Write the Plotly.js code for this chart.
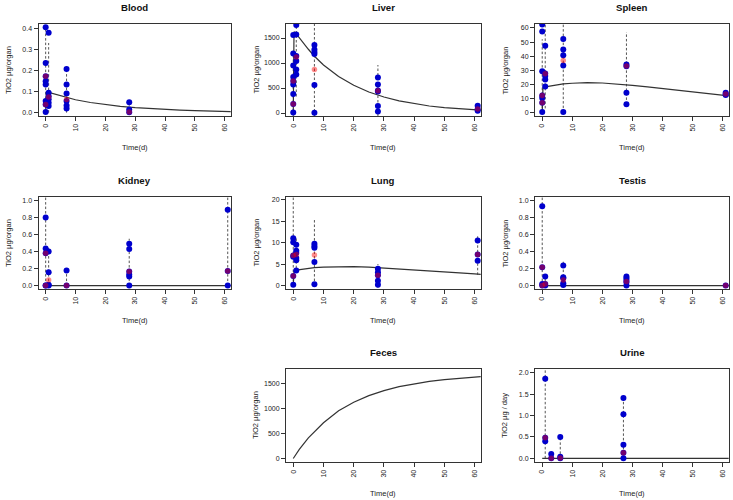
<!DOCTYPE html>
<html><head><meta charset="utf-8">
<script src="https://cdn.plot.ly/plotly-3.0.1.min.js"></script>
<style>html,body{margin:0;padding:0;background:#fff}#chart{width:733px;height:500px}</style>
</head><body><div id="chart"></div>
<script>
// ---------- data ----------
const panelNames = ['Blood','Liver','Spleen','Kidney','Lung','Testis','Feces','Urine'];
const yTitles = ['TiO2 µg/organ','TiO2 µg/organ','TiO2 µg/organ','TiO2 µg/organ','TiO2 µg/organ','TiO2 µg/organ','TiO2 µg/organ','TiO2 µg / day'];
const xTitle = 'Time(d)';
const xTicks = [0,10,20,30,40,50,60];

const bloodPtsX = [0,0,0,0,0,0,0,0, 1,1,1,1,1,1, 7,7,7,7,7,7, 28,28,28];
const bloodPtsY = [0.405,0.235,0.172,0.149,0.133,0.055,0.039,0.003, 0.379,0.094,0.078,0.063,0.047,0.031, 0.207,0.133,0.091,0.055,0.034,0.019, 0.049,0.015,0.002];
const bloodMeanX = [0,0,1,7,28];
const bloodMeanY = [0.172,0.039,0.074,0.062,0.003];
const bloodBarX = [0,1,7,28];
const bloodBarLo = [0,0,0,-0.01];
const bloodBarHi = [0.40,0.33,0.21,0.05];

const liverPtsX = [0,0,0,0,0,0,0,0,0, 1,1,1,1,1,1, 7,7,7,7,7,7, 28,28,28,28,28,28, 61,61,61];
const liverPtsY = [1560,1190,950,720,640,570,380,180,10, 1760,1570,1140,1040,870,770, 1360,1270,1220,1180,560,5, 710,570,450,430,140,30, 145,80,45];
const liverMeanX = [0,0,1,7,28,61];
const liverMeanY = [640,180,1120,870,445,80];
const liverBarX = [0,1,7,28,61];
const liverBarLo = [-60,330,-60,-60,10];
const liverBarHi = [1180,1790,1790,960,150];

const spleenPtsX = [0,0,0,0,0,0,0, 1,1,1,1,1, 7,7,7,7,7, 28,28,28,28, 61,61,61];
const spleenPtsY = [62.4,57.5,29.4,12.2,10.4,7.0,0.4, 47.3,27.8,25.9,23.4,18.5, 52.2,44.7,40.7,33.4,0.5, 34.1,32.9,14.1,5.9, 14.1,13.2,12.4];
const spleenMeanX = [0,0,1,7,28,61];
const spleenMeanY = [12.2,7.0,27.6,36.9,33.0,13.2];
const spleenBarX = [0,1,7,28,61];
const spleenBarLo = [0,3,0,9,12];
const spleenBarHi = [52,63,63,57,14.5];

const kidneyPtsX = [0,0,0,0,0, 1,1,1,1, 7,7, 28,28,28,28,28,28, 61,61,61];
const kidneyPtsY = [0.80,0.435,0.38,0.0,0.0, 0.40,0.157,0.01,0.0, 0.176,0.0, 0.49,0.43,0.165,0.13,0.106,0.0, 0.89,0.17,0.0];
const kidneyMeanX = [0,0,1,7,28,61];
const kidneyMeanY = [0.38,0.0,0.067,0.0,0.165,0.17];
const kidneyBarX = [0,1,7,28,61];
const kidneyBarLo = [0,0,0,0,0];
const kidneyBarHi = [1.05,0.44,0.17,0.55,1.05];

const lungPtsX = [0,0,0,0,0,0, 1,1,1,1,1,1, 7,7,7,7,7, 28,28,28,28,28, 61,61,61];
const lungPtsY = [11.0,10.1,7.0,6.7,2.2,0.2, 9.5,8.1,7.6,6.4,5.9,3.5, 9.7,9.2,8.8,5.5,0.3, 3.9,3.1,2.4,1.1,0.2, 10.5,7.2,5.8];
const lungMeanX = [0,0,1,7,28,61];
const lungMeanY = [7.0,2.2,7.2,7.1,2.4,7.2];
const lungBarX = [0,1,7,28,61];
const lungBarLo = [0,3,0,-0.5,2.5];
const lungBarHi = [21,11,15.7,5.0,11.9];

const testisPtsX = [0,0,0,0, 1,1,1, 7,7,7,7,7, 28,28,28,28,28, 61];
const testisPtsY = [0.93,0.216,0.02,0.0, 0.106,0.02,0.0, 0.235,0.098,0.086,0.027,0.008, 0.106,0.086,0.059,0.04,0.0, 0.0];
const testisMeanX = [0,0,1,7,28,61];
const testisMeanY = [0.216,0.0,0.02,0.067,0.047,0.0];
const testisBarX = [0,1,7,28];
const testisBarLo = [0,0,0,0];
const testisBarHi = [1.05,0.1,0.28,0.11];

const urinePtsX = [1,1,1, 3,3, 6,6,6, 27,27,27,27,27];
const urinePtsY = [1.86,0.48,0.40, 0.10,0.0, 0.50,0.04,0.0, 1.41,1.03,0.32,0.13,0.0];
const urineMeanX = [1,3,6,27];
const urineMeanY = [0.48,0.0,0.01,0.13];
const urineBarX = [1,3,6,27];
const urineBarLo = [0,0,0,0];
const urineBarHi = [2.1,0.1,0.5,1.45];

// fitted model curves
const fitX = [0,0.25,1,3,5,7,10,15,20,25,30,35,40,45,50,55,60,62];
const bloodFitY  = [0,0.098,0.096,0.088,0.080,0.071,0.061,0.048,0.038,0.030,0.024,0.019,0.015,0.012,0.009,0.007,0.006,0.005];
const liverFitY  = [0,1625,1580,1420,1275,1135,960,730,555,420,320,243,185,140,106,81,62,56];
const spleenFitY = [0,17.6,18.2,19.0,19.7,20.3,20.8,21.2,21.0,20.3,19.3,18.2,17.0,15.8,14.6,13.4,12.3,11.9];
const lungFitY   = [0,3.4,3.6,3.8,4.0,4.15,4.3,4.4,4.4,4.3,4.1,3.9,3.7,3.45,3.2,2.95,2.7,2.6];
const flatFitX = [0,62];
const kidneyFitY = [0,0];
const testisFitY = [0,0];
const urineFitY  = [0,0];
const fecesFitX = [0,2,5,10,15,20,25,30,35,40,45,50,55,62];
const fecesFitY = [0,180,410,710,950,1120,1250,1350,1430,1490,1535,1570,1598,1628];

const yRanges = [[-0.016,0.42],[-60,1780],[-2.4,62.8],[-0.04,1.04],[-0.8,20.6],[-0.04,1.04],[-70,1780],[-0.085,2.09]];
const yDticks = [0.1,500,10,0.2,5,0.2,500,0.5];
const yFormats = ['.1f','d','d','.1f','d','.1f','d','.1f'];

// ---------- layout geometry (pixels) ----------
const W = 733, H = 500;
const colPx = [[38.5,231],[286,481],[535,729]];
const rowPx = [[24,116],[197,289],[369,462]];
const cells = [[0,0],[0,1],[0,2],[1,0],[1,1],[1,2],[2,1],[2,2]];
const FONT = 'Liberation Sans, Arial, Helvetica, sans-serif';

const panels = [
  {pts:[bloodPtsX,bloodPtsY], mean:[bloodMeanX,bloodMeanY], bar:[bloodBarX,bloodBarLo,bloodBarHi], fit:[fitX,bloodFitY]},
  {pts:[liverPtsX,liverPtsY], mean:[liverMeanX,liverMeanY], bar:[liverBarX,liverBarLo,liverBarHi], fit:[fitX,liverFitY]},
  {pts:[spleenPtsX,spleenPtsY], mean:[spleenMeanX,spleenMeanY], bar:[spleenBarX,spleenBarLo,spleenBarHi], fit:[fitX,spleenFitY]},
  {pts:[kidneyPtsX,kidneyPtsY], mean:[kidneyMeanX,kidneyMeanY], bar:[kidneyBarX,kidneyBarLo,kidneyBarHi], fit:[flatFitX,kidneyFitY]},
  {pts:[lungPtsX,lungPtsY], mean:[lungMeanX,lungMeanY], bar:[lungBarX,lungBarLo,lungBarHi], fit:[fitX,lungFitY]},
  {pts:[testisPtsX,testisPtsY], mean:[testisMeanX,testisMeanY], bar:[testisBarX,testisBarLo,testisBarHi], fit:[flatFitX,testisFitY]},
  {pts:null, mean:null, bar:null, fit:[fecesFitX,fecesFitY]},
  {pts:[urinePtsX,urinePtsY], mean:[urineMeanX,urineMeanY], bar:[urineBarX,urineBarLo,urineBarHi], fit:[flatFitX,urineFitY]}
];

const traces = [];
const layout = {
  width: W, height: H, margin:{l:0,r:0,t:0,b:0},
  paper_bgcolor:'#fff', plot_bgcolor:'#fff', showlegend:false,
  font:{family:FONT, color:'#222'}, annotations:[]
};

panels.forEach((p, i) => {
  const n = i + 1;
  const xa = 'x' + (n === 1 ? '' : n), ya = 'y' + (n === 1 ? '' : n);
  const [r, c] = cells[i];
  const cx = colPx[c], ry = rowPx[r];
  const common = {
    showgrid:false, zeroline:false, showline:true, mirror:true, linecolor:'#333', linewidth:1,
    ticks:'outside', ticklen:4, tickwidth:1, tickcolor:'#333',
    tickfont:{family:FONT, size:7, color:'#222'}, fixedrange:true
  };
  layout['xaxis' + (n === 1 ? '' : n)] = Object.assign({}, common, {
    domain:[cx[0]/W, cx[1]/W], range:[-2.4,62.1], anchor:ya,
    tickmode:'array', tickvals:xTicks, ticktext:xTicks.map(String), tickangle:-90
  });
  layout['yaxis' + (n === 1 ? '' : n)] = Object.assign({}, common, {
    domain:[1 - ry[1]/H, 1 - ry[0]/H], range:yRanges[i], anchor:xa,
    tick0:0, dtick:yDticks[i], tickformat:yFormats[i]
  });
  if (p.bar) {
    const bx = [], by = [];
    p.bar[0].forEach((x, k) => { bx.push(x, x, null); by.push(p.bar[1][k], p.bar[2][k], null); });
    traces.push({x:bx, y:by, xaxis:xa, yaxis:ya, mode:'lines', type:'scatter', hoverinfo:'skip',
      line:{color:'#555', width:1, dash:'2.5px,2px'}});
  }
  traces.push({x:p.fit[0], y:p.fit[1], xaxis:xa, yaxis:ya, mode:'lines', type:'scatter',
    line:{color:'#333', width:1.2}});
  if (p.pts) {
    traces.push({x:p.pts[0], y:p.pts[1], xaxis:xa, yaxis:ya, mode:'markers', type:'scatter',
      marker:{color:'rgb(0,0,205)', size:6, line:{width:0}}});
    traces.push({x:p.mean[0], y:p.mean[1], xaxis:xa, yaxis:ya, mode:'markers', type:'scatter',
      marker:{color:'rgba(255,0,0,0.45)', size:5.5, line:{width:0}}});
  }
  layout.annotations.push({text:'<b>' + panelNames[i] + '</b>', xref:'paper', yref:'paper',
    x:(cx[0]+cx[1])/2/W, y:1 - (ry[0]-17)/H, xanchor:'center', yanchor:'middle', showarrow:false,
    font:{family:FONT, size:9.6, color:'#111'}});
  layout.annotations.push({text:xTitle, xref:'paper', yref:'paper',
    x:(cx[0]+cx[1])/2/W, y:1 - (ry[1]+31)/H, xanchor:'center', yanchor:'middle', showarrow:false,
    font:{family:FONT, size:7.5, color:'#222'}});
  layout.annotations.push({text:yTitles[i], xref:'paper', yref:'paper', textangle:-90,
    x:(cx[0]-30.5)/W, y:1 - (ry[0]+ry[1])/2/H, xanchor:'center', yanchor:'middle', showarrow:false,
    font:{family:FONT, size:7.5, color:'#222'}});
});

Plotly.newPlot('chart', traces, layout, {staticPlot:true, displayModeBar:false});
</script></body></html>
